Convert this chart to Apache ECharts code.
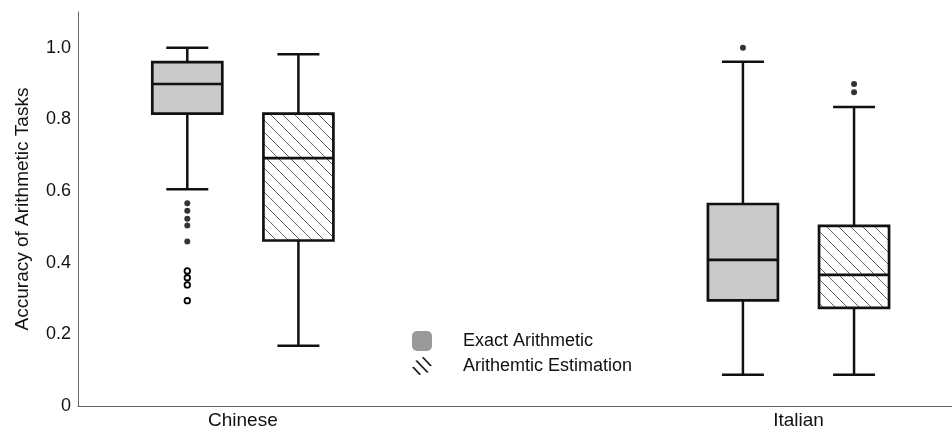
<!DOCTYPE html>
<html>
<head>
<meta charset="utf-8">
<script src="https://cdn.jsdelivr.net/npm/echarts@6/dist/echarts.min.js"></script>
<style>
  html, body { margin: 0; padding: 0; background: #fff; }
  #chart { width: 952px; height: 433px; }
</style>
</head>
<body>
<div id="chart"></div>
<script>
// groups on the x axis
const categories = ['Chinese', 'Italian'];
const seriesNames = ['Exact Arithmetic', 'Arithemtic Estimation'];
// box stats per group: [min, Q1, median, Q3, max]
const exactBox = [
  [0.605, 0.816, 0.899, 0.960, 1.000],
  [0.087, 0.295, 0.408, 0.564, 0.961]
];
const estimationBox = [
  [0.168, 0.462, 0.692, 0.816, 0.982],
  [0.087, 0.274, 0.366, 0.503, 0.835]
];
// outliers (filled dots) and extremes (open circles) per group
const exactOutliers = [[0.566, 0.545, 0.523, 0.504, 0.459], [1.000]];
const exactExtremes = [[0.377, 0.358, 0.338, 0.294], []];
const estimationOutliers = [[], [0.899, 0.876]];
const yMax = 1.1;
const yStep = 0.2;

const font = 'Liberation Sans, Arial, Helvetica, sans-serif';
const offset = 0.1; // half distance between the two boxes of a group

// diagonal hatch tile
function hatchTile () {
  const s = 12;
  const c = document.createElement('canvas');
  c.width = s; c.height = s;
  const ctx = c.getContext('2d');
  ctx.strokeStyle = '#666';
  ctx.lineWidth = 1;
  ctx.beginPath();
  ctx.moveTo(-1, -1); ctx.lineTo(s + 1, s + 1);
  ctx.moveTo(-1, s - 1); ctx.lineTo(1, s + 1);
  ctx.moveTo(s - 1, -1); ctx.lineTo(s + 1, 1);
  ctx.stroke();
  return c;
}
const hatch = { image: hatchTile(), repeat: 'repeat' };

function boxRenderer (fill) {
  return function (params, api) {
    const x = api.value(0);
    const p = [1, 2, 3, 4, 5].map(k => api.coord([x, api.value(k)]));
    const cx = p[0][0];
    const yMin = p[0][1], yQ1 = p[1][1], yMed = p[2][1], yQ3 = p[3][1], yMx = p[4][1];
    const lw = 2.5, bw = 35, cw = 21;
    const line = (x1, y1, x2, y2, w) => ({
      type: 'line',
      shape: { x1: x1, y1: y1, x2: x2, y2: y2 },
      style: { stroke: '#111', lineWidth: w || lw }
    });
    return {
      type: 'group',
      children: [
        line(cx, yMin, cx, yQ1),
        line(cx, yQ3, cx, yMx),
        line(cx - cw, yMin, cx + cw, yMin),
        line(cx - cw, yMx, cx + cw, yMx),
        {
          type: 'rect',
          shape: { x: cx - bw, y: yQ3, width: bw * 2, height: yQ1 - yQ3 },
          style: { fill: fill, stroke: '#111', lineWidth: 2.7 }
        },
        line(cx - bw, yMed, cx + bw, yMed, 2.7)
      ]
    };
  };
}

function points (lists, dx) {
  const out = [];
  lists.forEach((vals, i) => vals.forEach(v => out.push([i + 1 + dx, v])));
  return out;
}

const chart = echarts.init(document.getElementById('chart'));
chart.setOption({
  animation: false,
  grid: { left: 78, right: 0, top: 12, bottom: 27 },
  legend: {
    orient: 'vertical',
    left: 407,
    top: 326,
    itemWidth: 20,
    itemHeight: 20,
    itemGap: 6,
    selectedMode: false,
    textStyle: { fontFamily: font, fontSize: 18, color: '#111', padding: [0, 0, 0, 26] },
    data: [
      { name: seriesNames[0], icon: 'roundRect', itemStyle: { color: '#9a9a9a', borderWidth: 0 } },
      {
        name: seriesNames[1],
        icon: 'path://M0 9 L1.8 8.6 L8.4 15.6 L6.6 16 Z M3 3 L4.8 2.6 L15.4 13.6 L13.6 14 Z M9 0 L10.8 -0.4 L18.4 7.6 L16.6 8 Z',
        itemStyle: { color: '#222', borderWidth: 0 }
      }
    ]
  },
  xAxis: {
    type: 'value',
    min: 0.7033,
    max: 2.2763,
    axisLine: { onZero: false, lineStyle: { color: '#666', width: 1 } },
    axisTick: { show: false },
    splitLine: { show: false },
    axisLabel: {
      customValues: [1, 2],
      formatter: v => categories[Math.round(v) - 1],
      fontFamily: font,
      fontSize: 19,
      color: '#111',
      margin: 5
    }
  },
  yAxis: {
    type: 'value',
    min: 0,
    max: yMax,
    interval: yStep,
    name: 'Accuracy of Arithmetic Tasks',
    nameLocation: 'middle',
    nameGap: 46,
    nameTextStyle: { fontFamily: font, fontSize: 19, color: '#111' },
    axisLine: { show: true, onZero: false, lineStyle: { color: '#666', width: 1 } },
    axisTick: { show: false },
    splitLine: { show: false },
    axisLabel: {
      showMaxLabel: false,
      formatter: v => (v === 0 ? '0' : v.toFixed(1)),
      fontFamily: font,
      fontSize: 18,
      color: '#111',
      margin: 7
    }
  },
  series: [
    {
      name: seriesNames[0],
      type: 'custom',
      renderItem: boxRenderer('#c9c9c9'),
      itemStyle: { color: '#9a9a9a' },
      encode: { x: 0, y: [1, 2, 3, 4, 5] },
      data: exactBox.map((d, i) => [i + 1 - offset].concat(d))
    },
    {
      name: seriesNames[1],
      type: 'custom',
      renderItem: boxRenderer(hatch),
      itemStyle: { color: '#222' },
      encode: { x: 0, y: [1, 2, 3, 4, 5] },
      data: estimationBox.map((d, i) => [i + 1 + offset].concat(d))
    },
    {
      name: 'exactOutliers',
      type: 'scatter',
      symbolSize: 6,
      itemStyle: { color: '#000' },
      data: points(exactOutliers, -offset)
    },
    {
      name: 'exactExtremes',
      type: 'scatter',
      symbolSize: 5.5,
      itemStyle: { color: '#fff', borderColor: '#000', borderWidth: 1.8, opacity: 1 },
      data: points(exactExtremes, -offset)
    },
    {
      name: 'estimationOutliers',
      type: 'scatter',
      symbolSize: 6,
      itemStyle: { color: '#000' },
      data: points(estimationOutliers, offset)
    }
  ]
});
</script>
</body>
</html>
